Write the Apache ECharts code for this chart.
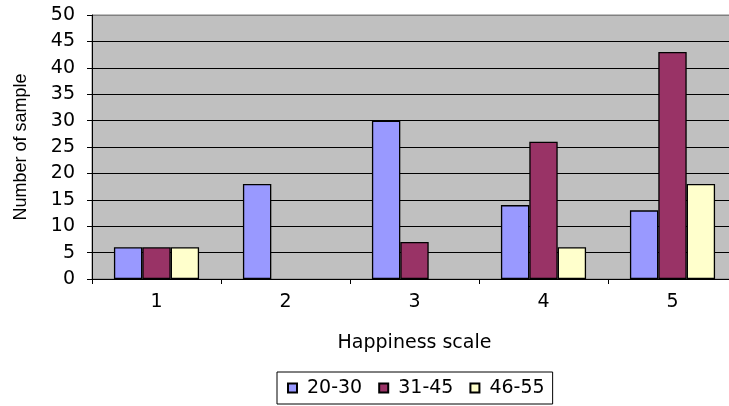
<!DOCTYPE html>
<html>
<head>
<meta charset="utf-8">
<script src="https://cdn.jsdelivr.net/npm/echarts@6/dist/echarts.min.js"></script>
<style>
html,body{margin:0;padding:0;background:#fff;}
#chart{width:729px;height:406px;}
</style>
</head>
<body>
<div id="chart"></div>
<script>
var categories = ['1', '2', '3', '4', '5'];
var seriesNames = ['20-30', '31-45', '46-55'];
var values2030 = [6, 18, 30, 14, 13];
var values3145 = [6, null, 7, 26, 43];
var values4655 = [6, null, null, 6, 18];
var yTicks = [0, 5, 10, 15, 20, 25, 30, 35, 40, 45, 50];

var colors = ['#9999FF', '#993366', '#FFFFCC'];
var seriesData = [values2030, values3145, values4655];

var chart = echarts.init(document.getElementById('chart'), null, {renderer: 'canvas'});
var hFont = 'DejaVu Sans';
var splitColors = yTicks.map(function (v, i) { return i === yTicks.length - 1 ? '#808080' : '#000000'; });

var option = {
  animation: false,
  backgroundColor: '#ffffff',
  grid: {
    left: 92, top: 15, width: 645, height: 264,
    outerBoundsMode: 'none',
    containLabel: false,
    show: true, backgroundColor: '#C0C0C0', borderColor: '#808080', borderWidth: 1
  },
  legend: {
    left: 277, top: 372,
    padding: [6, 8, 6, 10],
    borderColor: '#000', borderWidth: 1,
    itemWidth: 9, itemHeight: 9, itemGap: 16,
    icon: 'rect',
    textStyle: {fontFamily: hFont, fontSize: 19, color: '#000', padding: [0, 0, 0, 5], lineHeight: 20},
    data: seriesNames
  },
  xAxis: {
    type: 'category',
    data: categories,
    name: 'Happiness scale',
    nameLocation: 'middle',
    nameGap: 55,
    nameTextStyle: {fontFamily: hFont, fontSize: 19, color: '#000'},
    axisLine: {show: true, lineStyle: {color: '#000', width: 1}},
    axisTick: {show: true, length: 5, alignWithLabel: false, lineStyle: {color: '#000'}},
    axisLabel: {fontFamily: hFont, fontSize: 19, color: '#000', margin: 14},
    splitLine: {show: false}
  },
  yAxis: {
    type: 'value',
    min: 0, max: 50, interval: 5,
    name: 'Number of sample',
    nameLocation: 'middle',
    nameRotate: 90,
    nameGap: 62,
    nameTextStyle: {fontFamily: 'Liberation Sans', fontSize: 18, color: '#000'},
    axisLine: {show: true, lineStyle: {color: '#000', width: 1}},
    axisTick: {show: true, length: 5, lineStyle: {color: '#000'}},
    axisLabel: {fontFamily: hFont, fontSize: 19, color: '#000', margin: 17},
    splitLine: {show: true, lineStyle: {color: splitColors, width: 1}}
  },
  series: seriesNames.map(function (name, i) {
    return {
      name: name,
      type: 'bar',
      data: seriesData[i],
      barGap: '0%',
      barCategoryGap: '34%',
      itemStyle: {color: colors[i], borderColor: '#000', borderWidth: 1.3}
    };
  })
};
chart.setOption(option);
</script>
</body>
</html>
